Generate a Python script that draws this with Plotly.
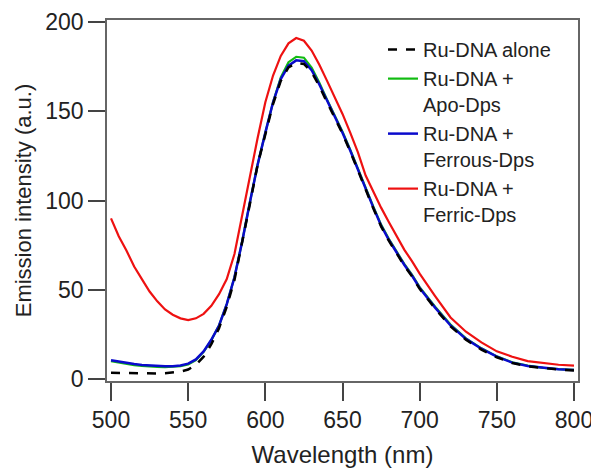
import plotly.graph_objects as go

# wavelength grid (nm)
wl = [500, 505, 510, 515, 520, 525, 530, 535, 540, 545, 550, 555, 560, 565, 570, 575,
      580, 585, 590, 595, 600, 605, 610, 615, 620, 625, 630, 635, 640, 645, 650, 655,
      660, 665, 670, 675, 680, 685, 690, 695, 700, 710, 720, 730, 740, 750, 760, 770,
      780, 790, 800]

ru_alone = [3.5, 3.4, 3.2, 3.1, 3.0, 3.0, 3.1, 3.3, 3.6, 4.2, 5.3, 8.0, 12.5, 19.5, 28.5, 40.5,
            55.5, 76, 98, 120, 137, 154, 167, 174.5, 177, 176.5, 172, 164, 155, 146.5, 137.5, 127.5,
            116.5, 105.5, 95.5, 85.5, 77.5, 70.5, 63.5, 57.5, 50.5, 39.5, 29.5, 22, 16.5, 12.2, 9.0, 7.1,
            6.0, 5.3, 4.8]

ru_apo = [10.0, 9.2, 8.5, 7.8, 7.4, 7.0, 6.8, 6.7, 6.8, 7.2, 8.2, 10.6, 15.2, 21.8, 30, 42,
          57, 77, 99, 120, 138, 155, 169, 177.5, 180.5, 180, 174.5, 166, 156.5, 147.5, 138.5, 128.5,
          117.5, 106.5, 96.5, 86.5, 78.5, 71.5, 64.5, 58.5, 51.5, 40.5, 30.5, 22.8, 17.2, 12.7, 9.4, 7.5,
          6.3, 5.6, 5.1]

ru_ferrous = [10.5, 9.7, 9.0, 8.4, 7.9, 7.5, 7.2, 7.1, 7.2, 7.6, 8.6, 11, 15.5, 22, 30, 42,
              57, 77, 99, 120, 138, 155, 168, 175.5, 178.5, 178, 173, 165, 156, 147, 138, 128,
              117, 106, 96, 86, 78, 71, 64, 58, 51, 40, 30, 22.5, 17, 12.5, 9.2, 7.3,
              6.2, 5.5, 5.0]

ru_ferric = [90, 80, 72, 63, 56, 49, 43.5, 39, 36, 34, 33, 34, 36.5, 41, 47.5, 56,
             70, 92, 113, 135, 155, 170, 181, 188, 191, 189.5, 184, 176, 167, 158, 148.5, 138,
             127, 114, 104.5, 96, 88, 80, 72.5, 66, 59, 46.5, 34.5, 26.5, 20.5, 15.5, 12.5, 10,
             8.8, 8.0, 7.5]

fig = go.Figure()
fig.add_trace(go.Scatter(x=wl, y=ru_apo, mode='lines', name='Ru-DNA +<br>Apo-Dps',
                         line=dict(color='#11bb11', width=2.2), legendrank=2))
fig.add_trace(go.Scatter(x=wl, y=ru_ferrous, mode='lines', name='Ru-DNA +<br>Ferrous-Dps',
                         line=dict(color='#0a0acc', width=2.5), legendrank=3))
fig.add_trace(go.Scatter(x=wl, y=ru_alone, mode='lines', name='Ru-DNA alone',
                         line=dict(color='black', width=2.5, dash='dash'), legendrank=1))
fig.add_trace(go.Scatter(x=wl, y=ru_ferric, mode='lines', name='Ru-DNA +<br>Ferric-Dps',
                         line=dict(color='#ee1111', width=2.2), legendrank=4))

# page body keeps an 8px margin, so the figure is 8px smaller than the window
fig.update_layout(
    width=591, height=460,
    margin=dict(l=99, r=21, t=12, b=87),
    plot_bgcolor='white', paper_bgcolor='white',
    font=dict(family='Liberation Sans, Arial, sans-serif', size=20, color='#222'),
    showlegend=True,
    legend=dict(x=0.586, y=0.972, xanchor='left', yanchor='top', valign='top',
                bgcolor='rgba(0,0,0,0)', font=dict(size=20, color='#222'),
                tracegroupgap=0, itemwidth=30),
)
fig.update_xaxes(range=[497.4, 802.6], tickvals=[500, 550, 600, 650, 700, 750, 800],
                 showline=True, mirror=True, linecolor='#666', linewidth=1.5,
                 ticks='outside', ticklen=18, tickwidth=1.5, tickcolor='#444',
                 tickfont=dict(size=23), automargin=False,
                 showgrid=False, zeroline=False,
                 title=dict(text='Wavelength (nm)', standoff=14, font=dict(size=24)))
fig.update_yaxes(range=[-1.1, 201.1], tickvals=[0, 50, 100, 150, 200],
                 showline=True, mirror=True, linecolor='#666', linewidth=1.5,
                 ticks='outside', ticklen=17, tickwidth=1.5, tickcolor='#444',
                 tickfont=dict(size=23), automargin=False,
                 showgrid=False, zeroline=False,
                 title=dict(text='Emission intensity (a.u.)', standoff=8, font=dict(size=22)))

fig.write_html("out.html")
